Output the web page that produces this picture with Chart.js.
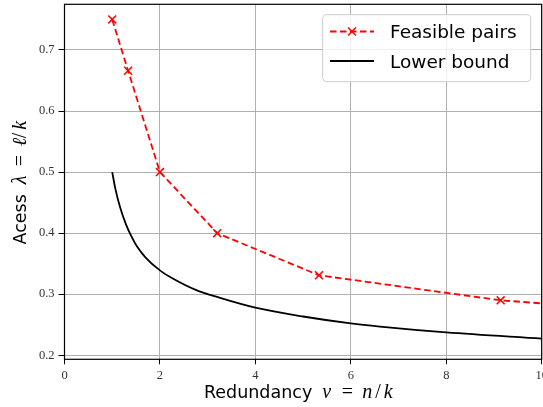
<!DOCTYPE html>
<html><head><meta charset="utf-8">
<script src="https://cdn.jsdelivr.net/npm/chart.js@4"></script>
<style>html,body{margin:0;padding:0;background:#fff;}canvas{display:block;}</style>
</head><body>
<canvas id="c" width="543" height="407"></canvas>
<script>
// ---- data ----
const feasibleNu = [1.0, 1.333, 2.0, 3.2, 5.333, 9.14, 16.0];
const feasibleLambda = [0.75, 0.666, 0.5, 0.4, 0.331, 0.29, 0.25];
const boundNu = [1.0, 1.065, 1.17, 1.29, 1.40, 1.52, 1.70, 2.0, 2.26, 2.75, 3.26, 4.0, 5.0, 6.0, 6.61, 8.0, 10.0];
const boundLambda = [0.5, 0.473, 0.441, 0.414, 0.395, 0.378, 0.360, 0.339, 0.326, 0.307, 0.294, 0.278, 0.2635, 0.2522, 0.247, 0.2375, 0.2273];
const xTicks = [0, 2, 4, 6, 8, 10];
const yTicks = [0.2, 0.3, 0.4, 0.5, 0.6, 0.7];
const seriesNames = ['Feasible pairs', 'Lower bound'];
const xTitleText = 'Redundancy';
const xTitleMath = ['ν', '=', 'n', '/', 'k'];
const yTitleText = 'Acess';
const yTitleMath = ['λ', '=', 'ℓ', '/', 'k'];

const SANS = '"DejaVu Sans", sans-serif';
const SERIF = '"Liberation Serif", serif';

function drawMath(ctx, tokens, offsets, x, y) {
  tokens.forEach((t, i) => {
    const upright = (t === '=' || t === '/');
    ctx.font = (upright ? '' : 'italic ') + '20px ' + SERIF;
    ctx.fillText(t, x + offsets[i], y);
  });
}

const decor = {
  id: 'decor',
  afterDraw(chart) {
    const ctx = chart.ctx;
    const a = chart.chartArea;
    ctx.save();
    // spines
    ctx.strokeStyle = '#000';
    ctx.lineWidth = 1.2;
    ctx.strokeRect(a.left, a.top, a.right - a.left, a.bottom - a.top);

    // legend
    const lx = 322.7, ly = 14.7, lw = 208, lh = 67;
    ctx.beginPath();
    if (ctx.roundRect) ctx.roundRect(lx, ly, lw, lh, 4); else ctx.rect(lx, ly, lw, lh);
    ctx.fillStyle = 'rgba(255,255,255,0.8)';
    ctx.fill();
    ctx.strokeStyle = '#cccccc';
    ctx.lineWidth = 1;
    ctx.stroke();
    const rows = [31.5, 61];
    chart.data.datasets.forEach((ds, i) => {
      const y = rows[i];
      ctx.beginPath();
      ctx.setLineDash(ds.borderDash || []);
      ctx.strokeStyle = ds.borderColor;
      ctx.lineWidth = ds.borderWidth;
      ctx.moveTo(330, y);
      ctx.lineTo(374, y);
      ctx.stroke();
      ctx.setLineDash([]);
      if (ds.pointRadius > 0) {
        const d = ds.pointRadius * 0.707;
        ctx.beginPath();
        ctx.lineWidth = ds.pointBorderWidth;
        ctx.moveTo(352 - d, y - d); ctx.lineTo(352 + d, y + d);
        ctx.moveTo(352 - d, y + d); ctx.lineTo(352 + d, y - d);
        ctx.stroke();
      }
      ctx.fillStyle = '#000';
      ctx.font = '18.5px ' + SANS;
      ctx.textBaseline = 'alphabetic';
      ctx.textAlign = 'left';
      ctx.fillText(ds.label, 390, y + 6.5);
    });

    // x title
    ctx.fillStyle = '#000';
    ctx.textBaseline = 'alphabetic';
    ctx.textAlign = 'left';
    ctx.font = '17.5px ' + SANS;
    const xw = ctx.measureText(xTitleText).width;
    const xOff = [0, 19.5, 40, 53, 61.5];
    const xTotal = xw + 10 + 72;
    const xStart = (a.left + a.right) / 2 - 4 - xTotal / 2;
    ctx.fillText(xTitleText, xStart, 398.3);
    drawMath(ctx, xTitleMath, xOff, xStart + xw + 10, 398.3);

    // y title (rotated)
    ctx.save();
    ctx.translate(25.5, (a.top + a.bottom) / 2);
    ctx.rotate(-Math.PI / 2);
    ctx.font = '17.5px ' + SANS;
    const yw = ctx.measureText(yTitleText).width;
    const yOff = [0, 18, 38, 46, 54.5];
    const yTotal = yw + 10 + 65;
    const yStart = -yTotal / 2;
    ctx.fillText(yTitleText, yStart, 0);
    drawMath(ctx, yTitleMath, yOff, yStart + yw + 10, 0);
    ctx.restore();

    ctx.restore();
  }
};

new Chart(document.getElementById('c'), {
  type: 'scatter',
  data: {
    datasets: [
      {
        label: seriesNames[0],
        data: feasibleNu.map((x, i) => ({ x: x, y: feasibleLambda[i] })),
        showLine: true,
        borderColor: '#ff0000',
        backgroundColor: '#ff0000',
        borderWidth: 1.8,
        borderDash: [6.5, 3.5],
        pointStyle: 'crossRot',
        pointRadius: 5.6,
        pointHoverRadius: 5.6,
        pointBorderWidth: 1.5,
        pointBorderColor: '#ff0000',
        tension: 0,
        clip: 0,
        order: 0
      },
      {
        label: seriesNames[1],
        data: boundNu.map((x, i) => ({ x: x, y: boundLambda[i] })),
        showLine: true,
        borderColor: '#000000',
        backgroundColor: '#000000',
        borderWidth: 1.8,
        pointRadius: 0,
        pointHoverRadius: 0,
        cubicInterpolationMode: 'monotone',
        clip: 0,
        order: 1
      }
    ]
  },
  options: {
    responsive: false,
    animation: false,
    events: [],
    layout: { autoPadding: false, padding: { left: 0, right: 1.3, top: 4.3, bottom: 0 } },
    plugins: { legend: { display: false }, tooltip: { enabled: false }, title: { display: false } },
    scales: {
      x: {
        type: 'linear',
        min: 0, max: 10,
        afterBuildTicks: s => { s.ticks = xTicks.map(v => ({ value: v })); },
        afterFit: s => { s.height = 47.7; s.paddingLeft = 0; s.paddingRight = 0; },
        ticks: {
          font: { family: SERIF, size: 12.5 },
          color: '#333',
          padding: 4,
          maxRotation: 0,
          autoSkip: false,
          callback: v => String(v)
        },
        grid: { color: '#b0b0b0', lineWidth: 1, tickColor: '#000', tickLength: 5, tickWidth: 1 },
        border: { display: false },
        title: { display: false }
      },
      y: {
        type: 'linear',
        min: 0.1934, max: 0.7748,
        afterBuildTicks: s => { s.ticks = yTicks.map(v => ({ value: v })); },
        afterFit: s => { s.width = 64.5; s.paddingTop = 0; s.paddingBottom = 0; },
        ticks: {
          font: { family: SERIF, size: 12.5 },
          color: '#333',
          padding: 4,
          autoSkip: false,
          callback: v => Number(v).toFixed(1)
        },
        grid: { color: '#b0b0b0', lineWidth: 1, tickColor: '#000', tickLength: 6, tickWidth: 1 },
        border: { display: false },
        title: { display: false }
      }
    }
  },
  plugins: [decor]
});
</script>
</body></html>
